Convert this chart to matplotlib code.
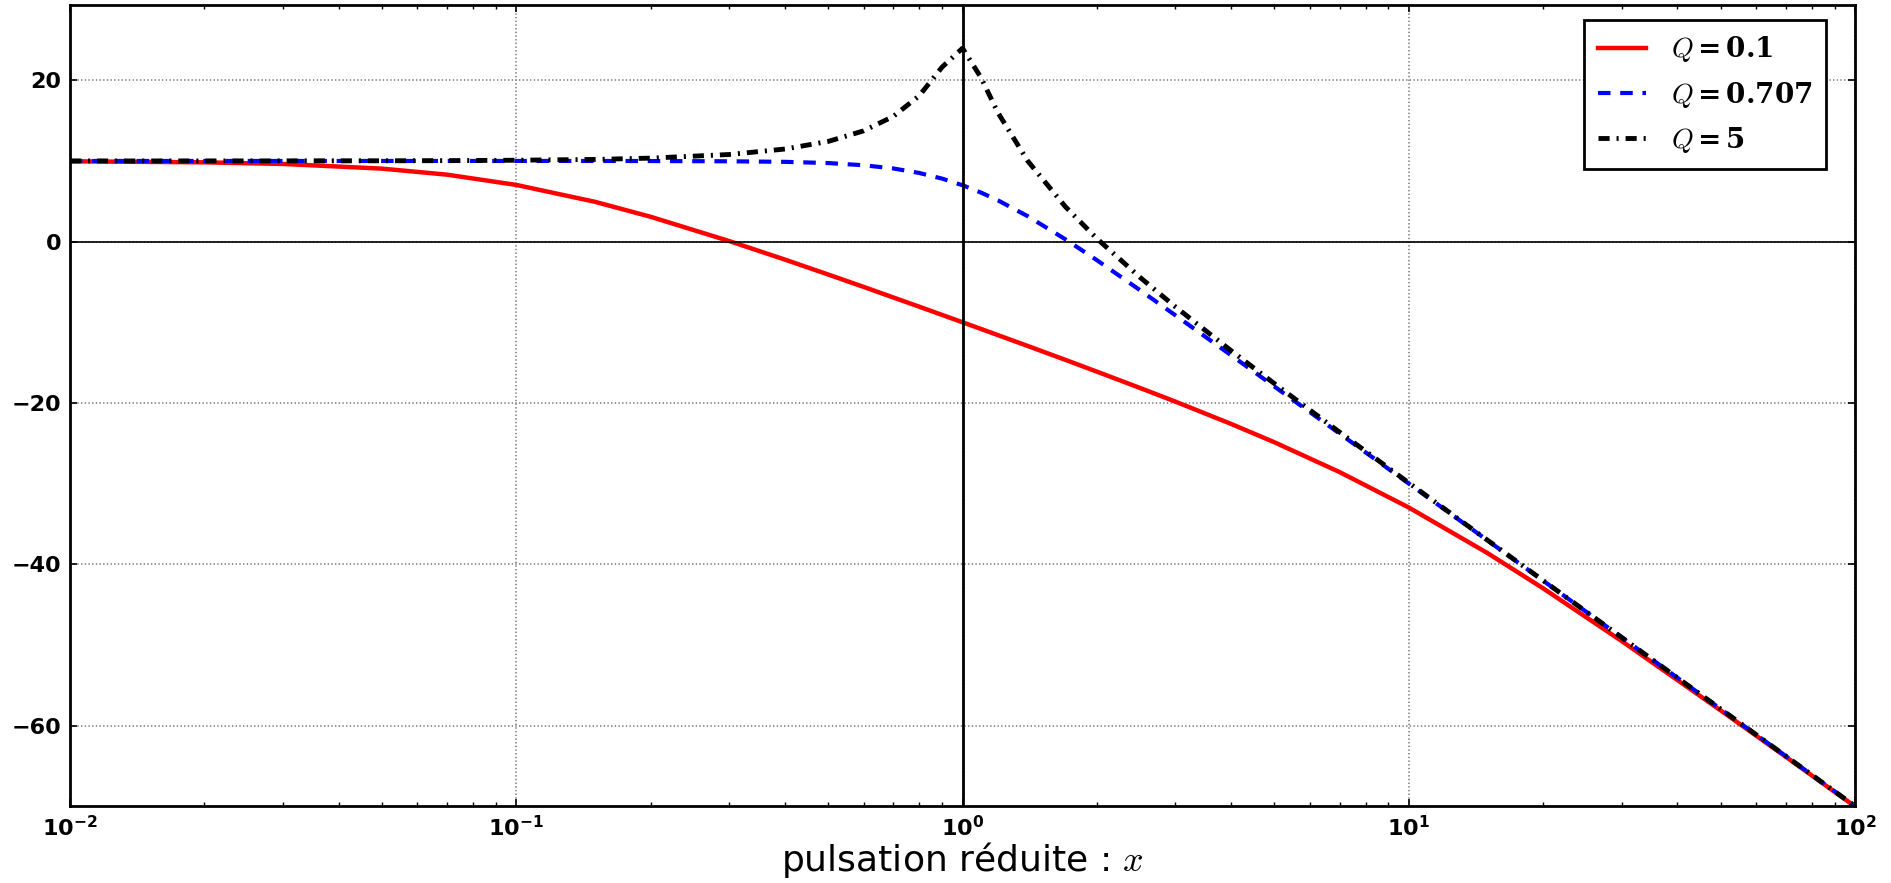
import numpy as np
import matplotlib
matplotlib.use("Agg")
import matplotlib.pyplot as plt

# ----------------------
# DATA (gain in dB)
# ----------------------
x = [0.01, 0.02, 0.03, 0.05, 0.07, 0.1, 0.15, 0.2, 0.3, 0.4, 0.5, 0.6, 0.7,
     0.8, 0.9, 1.0, 1.1, 1.2, 1.4, 1.7, 2.0, 2.5, 3.0, 4.0, 5.0, 7.0, 10.0,
     15.0, 20.0, 30.0, 50.0, 70.0, 100.0]

g_q01 = [9.96, 9.83, 9.63, 9.05, 8.30, 7.03, 4.94, 3.08, 0.07, -2.23, -4.08,
         -5.61, -6.93, -8.07, -9.09, -10.0, -10.83, -11.59, -12.94, -14.66,
         -16.12, -18.15, -19.84, -22.61, -24.88, -28.58, -32.97, -38.61,
         -42.99, -49.53, -58.13, -63.89, -70.04]

g_q0707 = [10.0, 10.0, 10.0, 10.0, 10.0, 10.0, 10.0, 9.99, 9.96, 9.89, 9.74,
           9.47, 9.07, 8.51, 7.81, 6.99, 6.08, 5.12, 3.15, 0.29, -2.30, -6.03,
           -9.14, -14.10, -17.97, -23.81, -30.0, -37.04, -42.04, -49.08,
           -57.96, -63.80, -70.0]

g_q5 = [10.0, 10.0, 10.01, 10.02, 10.04, 10.09, 10.19, 10.35, 10.80, 11.48,
        12.42, 13.73, 15.53, 18.09, 21.64, 23.98, 20.34, 16.00, 10.00, 4.33,
        0.38, -4.44, -8.09, -13.53, -17.61, -23.63, -29.91, -37.01, -42.02,
        -49.08, -57.96, -63.80, -70.0]

labels = [r'$\boldsymbol{Q}\mathbf{=0.1}$', r'$\boldsymbol{Q}\mathbf{=0.707}$',
          r'$\boldsymbol{Q}\mathbf{=5}$']

# ----------------------
# STYLE
# ----------------------
plt.rcParams['mathtext.fontset'] = 'custom'
plt.rcParams['mathtext.rm'] = 'cmr10'
plt.rcParams['mathtext.it'] = 'cmmi10'
plt.rcParams['mathtext.bf'] = 'DejaVu Serif:bold'
plt.rcParams['mathtext.bfit'] = 'cmmi10'
plt.rcParams['lines.scale_dashes'] = False

fig = plt.figure(figsize=(18.91, 8.83), dpi=100)
ax = fig.add_axes([0.037, 0.087, 0.944, 0.907])

ax.semilogx(x, g_q01, color='red', lw=3.2, label=labels[0])
ax.semilogx(x, g_q0707, color='blue', lw=3, dashes=(9, 7), label=labels[1])
ax.semilogx(x, g_q5, color='black', lw=3.5, dashes=(8, 5, 1.5, 5),
            label=labels[2])

ax.axhline(0, color='black', lw=1.2)
ax.axvline(1, color='black', lw=2)

ax.set_xlim(1e-2, 1e2)
ax.set_ylim(-70, 29.3)
ax.set_yticks([-60, -40, -20, 0, 20])
ax.grid(True, which='major', color='grey', linestyle=':', linewidth=1.2)

ax.tick_params(which='both', direction='in', top=True, right=True)
ax.tick_params(which='major', length=5, width=1.2, labelsize=16, pad=6)
ax.tick_params(which='minor', length=3, width=1)
for lab in ax.get_xticklabels() + ax.get_yticklabels():
    lab.set_fontweight('bold')
for s in ax.spines.values():
    s.set_linewidth(2)

ax.set_xlabel(r'pulsation réduite : $x$', fontsize=26, labelpad=0)

leg = ax.legend(loc='upper right', fontsize=20, fancybox=False,
                framealpha=1, borderpad=0.5, handlelength=1.7,
                handletextpad=0.9, labelspacing=0.55,
                bbox_to_anchor=(0.9915, 0.9985))
leg.get_frame().set_edgecolor('black')
leg.get_frame().set_linewidth(2)

fig.savefig('out.png', dpi=100)
